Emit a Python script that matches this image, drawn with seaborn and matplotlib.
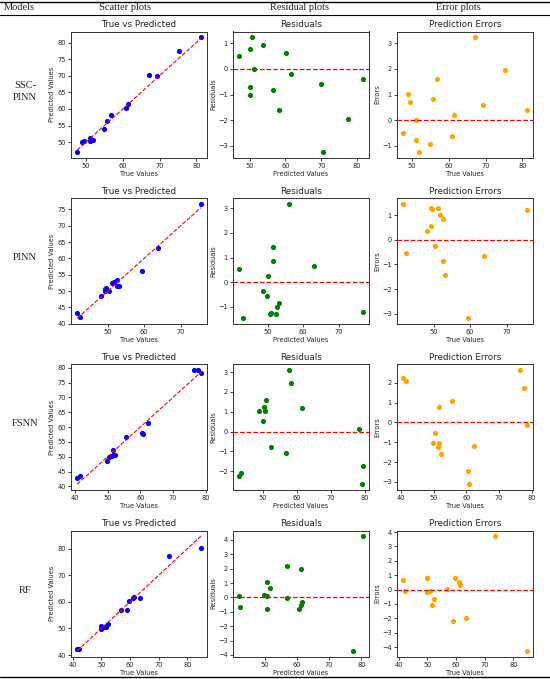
import numpy as np
import pandas as pd
import matplotlib
matplotlib.use("Agg")
import matplotlib.pyplot as plt
from matplotlib.lines import Line2D
import seaborn as sns

sns.set_style("white")
plt.rcParams['font.family'] = ['DejaVu Sans']

# ---------------- data ----------------
models = ["SSC-\nPINN", "PINN", "FSNN", "RF"]
column_headers = ["Models", "Scatter plots", "Residual plots", "Error plots"]

ssc_true = [47.6, 49.0, 49.5, 51.1, 51.0, 51.9, 54.8, 55.6, 56.7, 61.3, 60.8, 67.1, 69.4, 75.4, 81.2]
ssc_err = [-0.51, 1.03, 0.71, 0.00, -0.77, -1.24, -0.94, 0.82, 1.61, 0.18, -0.64, 3.24, 0.58, 1.95, 0.39]

pinn_true = [41.7, 42.6, 48.3, 49.3, 49.6, 49.4, 50.4, 51.2, 51.8, 52.5, 52.5, 53.0, 59.3, 63.7, 75.5]
pinn_err = [1.46, -0.54, 0.36, 1.30, 1.25, 0.55, -0.27, 1.28, 1.00, 0.86, -0.86, -1.42, -3.18, -0.64, 1.22]

fsnn_true = [40.7, 41.5, 51.6, 55.6, 50.5, 49.7, 51.7, 51.4, 52.3, 60.5, 60.8, 62.5, 76.5, 77.6, 78.5]
fsnn_err = [2.24, 2.09, 0.79, 1.06, -0.55, -1.04, -1.04, -1.22, -1.59, -2.43, -3.12, -1.19, 2.66, 1.74, -0.15]

rf_true = [41.6, 42.2, 50.0, 49.9, 50.8, 52.2, 51.8, 56.9, 59.7, 59.0, 60.9, 61.4, 63.4, 73.6, 84.7]
rf_err = [0.69, -0.09, 0.81, -0.14, -0.07, -0.67, -1.10, 0.05, 0.81, -2.19, 0.51, 0.30, -2.00, 3.71, -4.26]

series = [(ssc_true, ssc_err), (pinn_true, pinn_err), (fsnn_true, fsnn_err), (rf_true, rf_err)]

# ---------------- layout ----------------
W, H = 550, 679
fig = plt.figure(figsize=(W / 100, H / 100), dpi=100)
fig.patch.set_facecolor("white")

col_left = [71, 233, 397]
ax_w, ax_h = 136, 126
row_top = [31.5, 198, 364, 530.5]

def rect(left, top):
    return [left / W, 1 - (top + ax_h) / H, ax_w / W, ax_h / H]

serif = ['Liberation Serif', 'DejaVu Serif']
title_fs = 6.3
lab_fs = 4.8
tick_fs = 4.8

# table lines
for yy, lw in [(1.5, 1.0), (14.5, 0.8), (677, 1.0)]:
    fig.add_artist(Line2D([0, 1], [1 - yy / H, 1 - yy / H], color="black", lw=lw,
                          transform=fig.transFigure))

header_x = [4, 125, 300, 458]
for i, (hx, htxt) in enumerate(zip(header_x, column_headers)):
    fig.text(hx / W, 1 - 8 / H, htxt, ha="left" if i == 0 else "center", va="center",
             fontsize=7.5, family=serif)

for r, (tv, ev) in enumerate(series):
    true = np.array(tv)
    err = np.array(ev)
    pred = true + err
    resid = true - pred
    df = pd.DataFrame({"true": true, "pred": pred, "resid": resid, "err": err})

    top = row_top[r]
    fig.text(25 / W, 1 - (top + 60) / H, models[r], ha="center", va="center",
             fontsize=7.5, family=serif, linespacing=1.3)

    # scatter
    ax1 = fig.add_axes(rect(col_left[0], top))
    sns.scatterplot(data=df, x="true", y="pred", ax=ax1, color="blue", s=14,
                    linewidth=0, zorder=2)
    lo, hi = true.min(), true.max()
    ax1.plot([lo, hi], [lo, hi], "r--", lw=0.8, zorder=3)
    ax1.set_title("True vs Predicted", fontsize=title_fs, pad=3)
    ax1.set_xlabel("True Values", fontsize=lab_fs, labelpad=1.5)
    ax1.set_ylabel("Predicted Values", fontsize=lab_fs, labelpad=1.5)

    # residuals
    ax2 = fig.add_axes(rect(col_left[1], top))
    sns.scatterplot(data=df, x="pred", y="resid", ax=ax2, color="green", s=14,
                    linewidth=0, zorder=2)
    ax2.axhline(0, color="red", ls="--", lw=0.9, zorder=3)
    ax2.set_title("Residuals", fontsize=title_fs, pad=3)
    ax2.set_xlabel("Predicted Values", fontsize=lab_fs, labelpad=1.5)
    ax2.set_ylabel("Residuals", fontsize=lab_fs, labelpad=1.5)

    # errors
    ax3 = fig.add_axes(rect(col_left[2], top))
    sns.scatterplot(data=df, x="true", y="err", ax=ax3, color="orange", s=14,
                    linewidth=0, zorder=2)
    ax3.axhline(0, color="red", ls="--", lw=0.9, zorder=3)
    ax3.set_title("Prediction Errors", fontsize=title_fs, pad=3)
    ax3.set_xlabel("True Values", fontsize=lab_fs, labelpad=1.5)
    ax3.set_ylabel("Errors", fontsize=lab_fs, labelpad=1.5)

    for ax in (ax1, ax2, ax3):
        ax.tick_params(labelsize=tick_fs, length=2.2, width=0.6, pad=1.5,
                       left=True, bottom=True)
        for sp in ax.spines.values():
            sp.set_linewidth(0.7)
            sp.set_color("#333333")

fig.savefig("out.png", dpi=100, facecolor="white")
